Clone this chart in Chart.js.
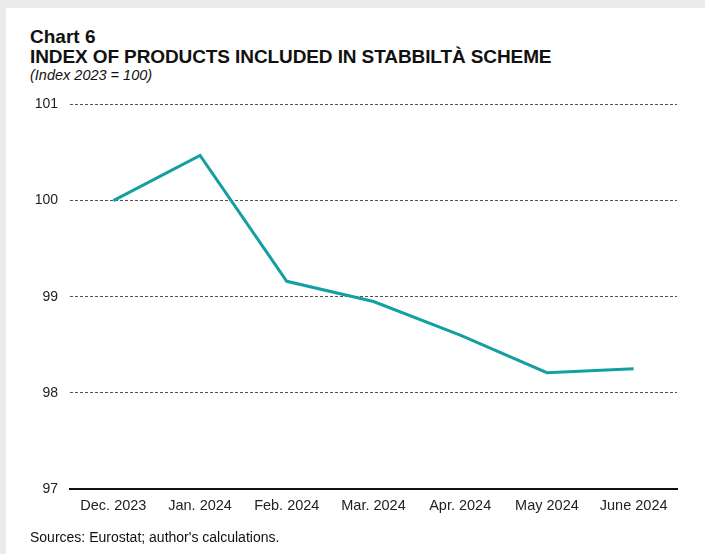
<!DOCTYPE html>
<html>
<head>
<meta charset="utf-8">
<script src="https://cdn.jsdelivr.net/npm/chart.js@4"></script>
<style>
  html, body { margin: 0; padding: 0; background: #ebebeb; }
  body { width: 705px; height: 554px; position: relative; overflow: hidden; font-family: Arial, "Liberation Sans", sans-serif; color: #111; }
  .panel { position: absolute; left: 6px; top: 8px; width: 699px; height: 546px; background: #fff; }
  .t1 { position: absolute; left: 30px; top: 26px; font-size: 19px; font-weight: bold; }
  .t2 { position: absolute; left: 30px; top: 46px; font-size: 19px; font-weight: bold; letter-spacing: -0.1px; }
  .t3 { position: absolute; left: 30px; top: 67px; font-size: 14.5px; font-style: italic; }
  .src { position: absolute; left: 30px; top: 529px; font-size: 14px; }
  #wrap { position: absolute; left: 0; top: 84px; width: 705px; height: 446px; }
</style>
</head>
<body>
<div class="panel"></div>
<div class="t1">Chart 6</div>
<div class="t2">INDEX OF PRODUCTS INCLUDED IN STABBILTÀ SCHEME</div>
<div class="t3">(Index 2023 = 100)</div>
<div id="wrap"><canvas id="chart"></canvas></div>
<div class="src">Sources: Eurostat; author's calculations.</div>
<script>
const months = ['Dec. 2023', 'Jan. 2024', 'Feb. 2024', 'Mar. 2024', 'Apr. 2024', 'May 2024', 'June 2024'];
const indexValues = [100.0, 100.47, 99.16, 98.95, 98.6, 98.21, 98.25];
const yMin = 97;
const yMax = 101;

const ctx = document.getElementById('chart').getContext('2d');
const chart = new Chart(ctx, {
    type: 'line',
    data: {
        labels: months,
        datasets: [{
            label: 'Index',
            data: indexValues,
            borderColor: 'rgb(20, 160, 160)',
            borderWidth: 3,
            pointRadius: 0,
            tension: 0,
            fill: false
        }]
    },
    options: {
        responsive: true,
        maintainAspectRatio: false,
        animation: false,
        layout: { padding: { top: 7, right: 28, bottom: 11, left: 0 } },
        plugins: {
            legend: { display: false },
            tooltip: { enabled: false }
        },
        scales: {
            x: {
                offset: true,
                grid: { display: false, drawTicks: false },
                border: { display: true, color: '#111', width: 2 },
                ticks: { color: '#222', font: { family: 'Arial', size: 14.5 }, padding: 8, maxRotation: 0 },
                afterFit: (scale) => { scale.height = 30; }
            },
            y: {
                min: yMin,
                max: yMax,
                ticks: { stepSize: 1, color: '#222', font: { family: 'Arial', size: 14 }, padding: 12 },
                grid: {
                    drawTicks: false,
                    color: (c) => c.tick && c.tick.value === yMin ? 'rgba(0,0,0,0)' : '#555',
                    lineWidth: 1
                },
                border: { display: false, dash: [3, 2] },
                afterFit: (scale) => { scale.width = 70; }
            }
        }
    }
});
</script>
</body>
</html>
